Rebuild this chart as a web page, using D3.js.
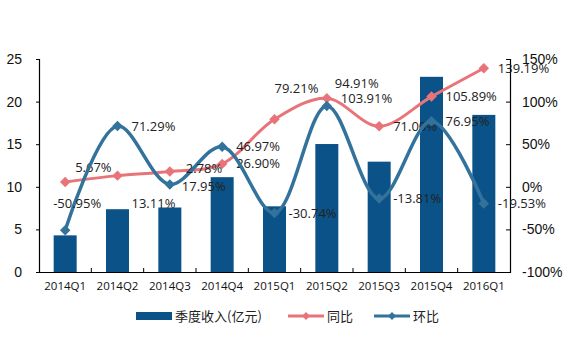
<!DOCTYPE html>
<html>
<head>
<meta charset="utf-8">
<script src="https://cdn.jsdelivr.net/npm/d3@7"></script>
<style>
  body { margin: 0; background: #fff; }
  svg text { font-family: "Liberation Sans", Arial, sans-serif; }
</style>
</head>
<body>
<div id="chart"></div>
<script>
const quarters = ["2014Q1", "2014Q2", "2014Q3", "2014Q4", "2015Q1", "2015Q2", "2015Q3", "2015Q4", "2016Q1"];
const revenue = [4.3, 7.37, 7.57, 11.13, 7.71, 15.02, 12.95, 22.91, 18.44];
const yoy = [5.67, 13.11, 17.95, 26.90, 79.21, 103.91, 71.00, 105.89, 139.19];
const qoq = [-50.95, 71.29, 2.78, 46.97, -30.74, 94.91, -13.81, 76.95, -19.53];
const leftTicks = [0, 5, 10, 15, 20, 25];
const rightTicks = [-100, -50, 0, 50, 100, 150];

const W = 569, H = 351;
const plot = { left: 39, right: 510, top: 59, bottom: 272 };

const barColor = "#0b5288", yoyColor = "#e8747a", qoqColor = "#33739b";
const labelFont = "'Open Sans', 'DejaVu Sans', sans-serif";

// manual label nudges (Excel labels dragged around a bit)
const yoyNudge = { 0: [-4, -15], 1: [0, 28], 2: [-2, 15], 4: [-14, -31] };
const qoqNudge = { 0: [-26, -27], 2: [2, -16], 5: [-6, -22] };

const svg = d3.select("#chart").append("svg")
    .attr("width", W)
    .attr("height", H);

const x = d3.scaleBand()
    .domain(quarters)
    .range([plot.left, plot.right]);

const yL = d3.scaleLinear().domain([0, 25]).range([plot.bottom, plot.top]);
const yR = d3.scaleLinear().domain([-100, 150]).range([plot.bottom, plot.top]);

// bars
svg.append("g").selectAll("rect")
    .data(revenue)
    .join("rect")
    .attr("x", (d, i) => x(quarters[i]) + x.bandwidth() / 2 - 11.5)
    .attr("width", 23)
    .attr("y", d => yL(d))
    .attr("height", d => yL(0) - yL(d))
    .attr("fill", barColor);

// axes
const leftAxis = svg.append("g")
    .attr("transform", `translate(${plot.left},0)`)
    .call(d3.axisLeft(yL).tickValues(leftTicks).tickSize(3).tickPadding(14));
const rightAxis = svg.append("g")
    .attr("transform", `translate(${plot.right},0)`)
    .call(d3.axisRight(yR).tickValues(rightTicks).tickSize(-4).tickPadding(12).tickFormat(d => d + "%"));
const bottomAxis = svg.append("g")
    .attr("transform", `translate(0,${plot.bottom})`)
    .call(d3.axisBottom(x).tickSize(0).tickPadding(10));

[leftAxis, rightAxis, bottomAxis].forEach(g => {
    g.select(".domain").attr("stroke", "#000").attr("stroke-width", 1.2);
    g.selectAll(".tick line").attr("stroke", "#000");
    g.selectAll("text").attr("fill", "#111");
});
leftAxis.selectAll("text").style("font-size", "14px");
rightAxis.selectAll("text").style("font-size", "14px");
bottomAxis.selectAll("text").style("font-size", "11.5px").style("font-family", labelFont);

// small category separator ticks
svg.append("g").selectAll("line")
    .data(quarters.slice(1))
    .join("line")
    .attr("x1", d => x(d)).attr("x2", d => x(d))
    .attr("y1", plot.bottom).attr("y2", plot.bottom - 4)
    .attr("stroke", "#000");

const cx = i => x(quarters[i]) + x.bandwidth() / 2;

function drawSeries(values, color, width, curve, nudge) {
    const line = d3.line()
        .x((d, i) => cx(i))
        .y(d => yR(d))
        .curve(curve);
    svg.append("path")
        .datum(values)
        .attr("fill", "none")
        .attr("stroke", color)
        .attr("stroke-width", width)
        .attr("d", line);
    svg.append("g").selectAll("path")
        .data(values)
        .join("path")
        .attr("d", d3.symbol(d3.symbolDiamond2, 70))
        .attr("transform", (d, i) => `translate(${cx(i)},${yR(d)})`)
        .attr("fill", color);
    svg.append("g").selectAll("text")
        .data(values)
        .join("text")
        .attr("x", (d, i) => cx(i) + 14 + (nudge[i] ? nudge[i][0] : 0))
        .attr("y", (d, i) => yR(d) + (nudge[i] ? nudge[i][1] : 0))
        .attr("dy", "0.35em")
        .style("font-family", labelFont)
        .style("font-size", "13px")
        .attr("fill", "#222")
        .text(d => d.toFixed(2) + "%");
}

drawSeries(yoy, yoyColor, 3, d3.curveCatmullRom.alpha(0.5), yoyNudge);
drawSeries(qoq, qoqColor, 3.5, d3.curveCatmullRom.alpha(0.5), qoqNudge);

// legend
const legend = svg.append("g").attr("transform", "translate(0,316)");
legend.append("rect")
    .attr("x", 136).attr("y", -4).attr("width", 36).attr("height", 8)
    .attr("fill", barColor);
legend.append("text")
    .attr("x", 175).attr("y", 0).attr("dy", "0.35em")
    .style("font-family", "'Noto Sans CJK SC', sans-serif").style("font-size", "13px")
    .attr("fill", "#222")
    .text("季度收入(亿元)");

[[288, yoyColor, "同比"], [374, qoqColor, "环比"]].forEach(([lx, c, t]) => {
    legend.append("line")
        .attr("x1", lx).attr("x2", lx + 36).attr("y1", 0).attr("y2", 0)
        .attr("stroke", c).attr("stroke-width", 3);
    legend.append("path")
        .attr("d", d3.symbol(d3.symbolDiamond2, 40))
        .attr("transform", `translate(${lx + 18},0)`)
        .attr("fill", c);
    legend.append("text")
        .attr("x", lx + 39).attr("y", 0).attr("dy", "0.35em")
        .style("font-family", "'Noto Sans CJK SC', sans-serif").style("font-size", "13px")
        .attr("fill", "#222")
        .text(t);
});
</script>
</body>
</html>
